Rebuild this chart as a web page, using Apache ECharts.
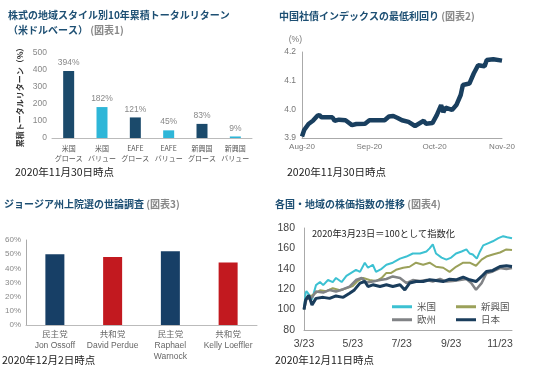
<!DOCTYPE html>
<html lang="ja">
<head>
  <meta charset="UTF-8" />
  <script src="https://cdn.jsdelivr.net/npm/echarts@6/dist/echarts.min.js"></script>
  <title>charts</title>
  <style>
    body { margin: 0; background: #fff; }
  </style>
</head>
<body>
  <div id="main" style="width: 537px; height: 375px;"></div>
  <script type="text/javascript">
    // 図表1
    var styleCats = ['米国\nグロース', '米国\nバリュー', 'EAFE\nグロース', 'EAFE\nバリュー', '新興国\nグロース', '新興国\nバリュー'];
    var styleReturns = [394, 182, 121, 45, 83, 9];

    // 図表2
    var yieldData = [
      ['2020-08-01', 3.905], ['2020-08-02', 3.928], ['2020-08-04', 3.949], ['2020-08-06', 3.96],
      ['2020-08-08', 3.977], ['2020-08-09', 3.98], ['2020-08-10', 3.972], ['2020-08-13', 3.972],
      ['2020-08-15', 3.972], ['2020-08-16', 3.96], ['2020-08-18', 3.964], ['2020-08-21', 3.962],
      ['2020-08-24', 3.945], ['2020-08-26', 3.949], ['2020-08-30', 3.95], ['2020-09-01', 3.962],
      ['2020-09-08', 3.962], ['2020-09-10', 3.975], ['2020-09-12', 3.977], ['2020-09-14', 3.97],
      ['2020-09-16', 3.962], ['2020-09-19', 3.956], ['2020-09-22', 3.942], ['2020-09-26', 3.96],
      ['2020-09-27', 3.95], ['2020-09-30', 3.952], ['2020-10-02', 3.98], ['2020-10-04', 4.015],
      ['2020-10-05', 3.99], ['2020-10-06', 4.006], ['2020-10-09', 3.998], ['2020-10-11', 4.015],
      ['2020-10-13', 4.05], ['2020-10-14', 4.085], ['2020-10-17', 4.09], ['2020-10-19', 4.125],
      ['2020-10-21', 4.154], ['2020-10-24', 4.15], ['2020-10-25', 4.172], ['2020-10-28', 4.175],
      ['2020-11-01', 4.17]
    ];

    // 図表3
    var pollCats = ['民主党\nJon Ossoff', '共和党\nDavid Perdue', '民主党\nRaphael\nWarnock', '共和党\nKelly Loeffler'];
    var pollValues = [49.9, 48, 52, 44.2];

    // 図表4
    var usData = [
      ['2020-03-23', 100], ['2020-03-25', 116], ['2020-03-26', 118], ['2020-03-30', 114], ['2020-04-02', 110],
      ['2020-04-07', 124], ['2020-04-12', 127], ['2020-04-16', 124], ['2020-04-22', 129], ['2020-04-28', 127],
      ['2020-05-02', 131], ['2020-05-09', 127], ['2020-05-15', 133], ['2020-05-21', 136], ['2020-05-27', 139],
      ['2020-06-01', 137], ['2020-06-07', 146], ['2020-06-11', 141], ['2020-06-17', 144], ['2020-06-21', 137],
      ['2020-06-28', 140], ['2020-07-04', 144], ['2020-07-12', 146], ['2020-07-21', 150], ['2020-07-29', 152],
      ['2020-08-06', 155], ['2020-08-15', 155], ['2020-08-23', 157], ['2020-08-27', 160], ['2020-08-31', 164],
      ['2020-09-04', 155], ['2020-09-11', 151], ['2020-09-17', 149], ['2020-09-23', 151], ['2020-09-29', 155],
      ['2020-10-06', 157], ['2020-10-12', 159], ['2020-10-16', 155], ['2020-10-20', 154], ['2020-10-25', 150],
      ['2020-10-29', 157], ['2020-11-02', 163], ['2020-11-08', 165], ['2020-11-14', 167], ['2020-11-21', 170],
      ['2020-11-27', 172], ['2020-12-02', 171], ['2020-12-08', 170]
    ];
    var emData = [
      ['2020-03-23', 100], ['2020-03-26', 112], ['2020-04-02', 114], ['2020-04-12', 119], ['2020-04-20', 118],
      ['2020-04-28', 121], ['2020-05-07', 119], ['2020-05-15', 121], ['2020-05-23', 123], ['2020-05-29', 128],
      ['2020-06-05', 131], ['2020-06-13', 129], ['2020-06-21', 128], ['2020-06-28', 131], ['2020-07-04', 136],
      ['2020-07-10', 136], ['2020-07-16', 139], ['2020-07-25', 141], ['2020-08-02', 142], ['2020-08-10', 146],
      ['2020-08-19', 144], ['2020-08-27', 146], ['2020-09-04', 142], ['2020-09-13', 141], ['2020-09-21', 137],
      ['2020-09-29', 142], ['2020-10-08', 146], ['2020-10-16', 146], ['2020-10-24', 143], ['2020-10-31', 149],
      ['2020-11-06', 152], ['2020-11-14', 154], ['2020-11-23', 156], ['2020-12-01', 159], ['2020-12-08', 158.5]
    ];
    var euData = [
      ['2020-03-23', 100], ['2020-03-26', 110], ['2020-04-02', 112], ['2020-04-07', 117.7], ['2020-04-16', 116.7],
      ['2020-04-24', 119.3], ['2020-05-02', 117.7], ['2020-05-11', 120], ['2020-05-19', 122.6], ['2020-05-27', 129],
      ['2020-06-03', 131], ['2020-06-09', 126.6], ['2020-06-17', 127.5], ['2020-06-26', 129], ['2020-07-04', 130],
      ['2020-07-12', 132.5], ['2020-07-21', 131], ['2020-07-29', 126], ['2020-08-06', 129], ['2020-08-15', 128],
      ['2020-08-23', 129], ['2020-08-31', 127.5], ['2020-09-09', 130], ['2020-09-17', 127.5], ['2020-09-25', 128],
      ['2020-10-04', 129], ['2020-10-12', 130], ['2020-10-18', 126], ['2020-10-24', 119.5], ['2020-10-31', 126],
      ['2020-11-06', 135.7], ['2020-11-14', 137.4], ['2020-11-23', 140.7], ['2020-12-01', 139.7], ['2020-12-08', 140.7]
    ];
    var jpData = [
      ['2020-03-23', 100], ['2020-03-25', 109.5], ['2020-03-29', 114], ['2020-04-02', 104.6], ['2020-04-07', 111],
      ['2020-04-16', 112], ['2020-04-24', 111], ['2020-05-02', 113.4], ['2020-05-11', 112], ['2020-05-19', 116],
      ['2020-05-25', 119.3], ['2020-06-01', 126], ['2020-06-07', 127.5], ['2020-06-11', 122.6], ['2020-06-17', 124.3],
      ['2020-06-26', 122.6], ['2020-07-04', 124.3], ['2020-07-12', 122.6], ['2020-07-21', 124.3], ['2020-07-27', 119.3],
      ['2020-08-02', 126], ['2020-08-10', 127.5], ['2020-08-19', 127.5], ['2020-08-27', 129.2], ['2020-09-04', 128.5],
      ['2020-09-13', 127.5], ['2020-09-21', 129.8], ['2020-09-29', 129.2], ['2020-10-08', 131.8], ['2020-10-16', 129.2],
      ['2020-10-24', 127.5], ['2020-10-31', 132.5], ['2020-11-06', 137.4], ['2020-11-14', 138.4], ['2020-11-23', 142.3],
      ['2020-12-01', 143], ['2020-12-08', 142.3]
    ];

    var yieldTicks = ['2020-08-01', '2020-09-01', '2020-10-01', '2020-11-01'];
    var stockTicks = ['2020-03-23', '2020-05-23', '2020-07-23', '2020-09-23', '2020-11-23'];
    var monthNames = ['Jan', 'Feb', 'Mar', 'Apr', 'May', 'Jun', 'Jul', 'Aug', 'Sep', 'Oct', 'Nov', 'Dec'];

    function toTime(s) {
      var p = s.split('-');
      return +new Date(+p[0], +p[1] - 1, +p[2]);
    }
    function pairs(arr) {
      return arr.map(function (d) { return [toTime(d[0]), d[1]]; });
    }

    var navy = '#1b4a6b';
    var titleRich = {
      m: { fontSize: 10, fontWeight: 'bold', color: '#1d4f73', lineHeight: 15 },
      s: { fontSize: 10, color: '#888', lineHeight: 15 }
    };
    var font = "'Liberation Sans', 'Noto Sans CJK JP', sans-serif";
    var cjk = "'Noto Sans CJK JP', sans-serif";

    var legendCommon = {
      left: 392, itemWidth: 20, itemHeight: 3, itemGap: 20, icon: 'rect',
      textStyle: { fontSize: 9.5, color: '#555', fontFamily: cjk }
    };

    var myChart = echarts.init(document.getElementById('main'));

    myChart.setOption({
      animation: false,
      textStyle: { fontFamily: font },
      title: [
        { text: '{m|株式の地域スタイル別10年累積トータルリターン}\n{m|（米ドルベース）}{s| (図表1)}', left: 8, top: 8, padding: 0, textStyle: { fontFamily: cjk, rich: titleRich } },
        { text: '{m|中国社債インデックスの最低利回り}{s| (図表2)}', left: 279, top: 9, padding: 0, textStyle: { fontFamily: cjk, rich: titleRich } },
        { text: '{m|ジョージア州上院選の世論調査}{s| (図表3)}', left: 4, top: 197, padding: 0, textStyle: { fontFamily: cjk, rich: titleRich } },
        { text: '{m|各国・地域の株価指数の推移}{s| (図表4)}', left: 275, top: 197, padding: 0, textStyle: { fontFamily: cjk, rich: titleRich } }
      ],
      legend: [
        Object.assign({ top: 302, padding: 0, data: ['米国', '新興国'] }, legendCommon),
        Object.assign({ top: 315, padding: 0, data: ['欧州', '日本'] }, legendCommon)
      ],
      graphic: [
        { type: 'text', left: 15, top: 167, style: { text: '2020年11月30日時点', fontSize: 10.5, fill: '#222', fontFamily: cjk } },
        { type: 'text', left: 287, top: 167, style: { text: '2020年11月30日時点', fontSize: 10.5, fill: '#222', fontFamily: cjk } },
        { type: 'text', left: 2, top: 355, style: { text: '2020年12月2日時点', fontSize: 10.5, fill: '#222', fontFamily: cjk } },
        { type: 'text', left: 275, top: 355, style: { text: '2020年12月11日時点', fontSize: 10.5, fill: '#222', fontFamily: cjk } },
        { type: 'text', left: 312, top: 229, style: { text: '2020年3月23日＝100として指数化', fontSize: 9.2, fill: '#222', fontFamily: cjk } }
      ],
      grid: [
        { left: 52, right: 285, top: 53, bottom: 237 },
        { left: 302, right: 35, top: 52, bottom: 237 },
        { left: 26, right: 280, top: 240, bottom: 50 },
        { left: 304, right: 25, top: 228, bottom: 45 }
      ],
      xAxis: [
        {
          gridIndex: 0, type: 'category', data: styleCats,
          axisLine: { lineStyle: { color: '#bbb' } }, axisTick: { show: false },
          axisLabel: { fontSize: 7, color: '#555', lineHeight: 10, margin: 5, interval: 0, fontFamily: cjk }
        },
        {
          gridIndex: 1, type: 'value', min: toTime('2020-08-01'), max: toTime('2020-11-01'),
          axisLine: { lineStyle: { color: '#aaa' } }, axisTick: { show: false }, splitLine: { show: false },
          axisLabel: {
            customValues: yieldTicks.map(toTime), hideOverlap: false,
            fontSize: 8, color: '#777', margin: 5,
            formatter: function (val) { return monthNames[new Date(val).getMonth()] + '-20'; }
          }
        },
        {
          gridIndex: 2, type: 'category', data: pollCats,
          axisLine: { lineStyle: { color: '#bbb' } }, axisTick: { show: false },
          axisLabel: { fontSize: 8.5, color: '#666', lineHeight: 11, margin: 4, interval: 0 }
        },
        {
          gridIndex: 3, type: 'value', min: toTime('2020-03-23'), max: toTime('2020-12-08'),
          axisLine: { lineStyle: { color: '#aaa' } }, axisTick: { show: false }, splitLine: { show: false },
          axisLabel: {
            customValues: stockTicks.map(toTime), hideOverlap: false,
            fontSize: 10.5, color: '#444', margin: 9,
            formatter: function (val) { var d = new Date(val); return (d.getMonth() + 1) + '/' + d.getDate(); }
          }
        }
      ],
      yAxis: [
        {
          gridIndex: 0, type: 'value', min: 0, max: 500, interval: 100,
          name: '累積トータルリターン（%）', nameLocation: 'middle', nameGap: 28,
          nameTextStyle: { fontSize: 8, fontWeight: 'bold', color: '#333', fontFamily: cjk },
          axisLine: { show: false }, axisTick: { show: false }, splitLine: { show: false },
          axisLabel: { fontSize: 8.5, color: '#888', margin: 5 }
        },
        {
          gridIndex: 1, type: 'value', min: 3.9, max: 4.2, interval: 0.1,
          name: '(%)', nameGap: 8, nameTextStyle: { fontSize: 8.5, color: '#777', align: 'right' },
          axisLine: { show: true, lineStyle: { color: '#aaa' } }, axisTick: { show: false }, splitLine: { show: false },
          axisLabel: { fontSize: 8.5, color: '#777', margin: 6, formatter: function (v) { return v.toFixed(1); } }
        },
        {
          gridIndex: 2, type: 'value', min: 0, max: 60, interval: 10,
          axisLine: { show: true, lineStyle: { color: '#aaa' } }, axisTick: { show: false }, splitLine: { show: false },
          axisLabel: { fontSize: 8, color: '#888', margin: 5, formatter: '{value}%' }
        },
        {
          gridIndex: 3, type: 'value', min: 80, max: 180, interval: 20,
          axisLine: { show: true, lineStyle: { color: '#aaa' } }, axisTick: { show: false }, splitLine: { show: false },
          axisLabel: { fontSize: 10.5, color: '#444', margin: 9 }
        }
      ],
      series: [
        {
          type: 'bar', xAxisIndex: 0, yAxisIndex: 0, barWidth: 11,
          data: styleReturns.map(function (v, i) {
            return { value: v, itemStyle: { color: i % 2 === 0 ? navy : '#2eb6d8' } };
          }),
          label: { show: true, position: 'top', distance: 4, formatter: '{c}%', fontSize: 8.5, color: '#888' }
        },
        {
          type: 'line', xAxisIndex: 1, yAxisIndex: 1, data: pairs(yieldData),
          showSymbol: false, lineStyle: { width: 4.5, color: '#193f5f' }, itemStyle: { color: '#193f5f' }
        },
        {
          type: 'bar', xAxisIndex: 2, yAxisIndex: 2, barWidth: 19,
          data: pollValues.map(function (v, i) {
            return { value: v, itemStyle: { color: i % 2 === 0 ? '#173f66' : '#c2191f' } };
          })
        },
        {
          name: '米国', type: 'line', xAxisIndex: 3, yAxisIndex: 3, showSymbol: false, data: pairs(usData),
          lineStyle: { width: 2, color: '#3cc1d2' }, itemStyle: { color: '#3cc1d2' }
        },
        {
          name: '新興国', type: 'line', xAxisIndex: 3, yAxisIndex: 3, showSymbol: false, data: pairs(emData),
          lineStyle: { width: 2, color: '#9ba15a' }, itemStyle: { color: '#9ba15a' }
        },
        {
          name: '欧州', type: 'line', xAxisIndex: 3, yAxisIndex: 3, showSymbol: false, data: pairs(euData),
          lineStyle: { width: 2.5, color: '#818386' }, itemStyle: { color: '#818386' }
        },
        {
          name: '日本', type: 'line', xAxisIndex: 3, yAxisIndex: 3, showSymbol: false, data: pairs(jpData),
          lineStyle: { width: 3, color: '#1a3d5c' }, itemStyle: { color: '#1a3d5c' }
        }
      ]
    });
  </script>
</body>
</html>
